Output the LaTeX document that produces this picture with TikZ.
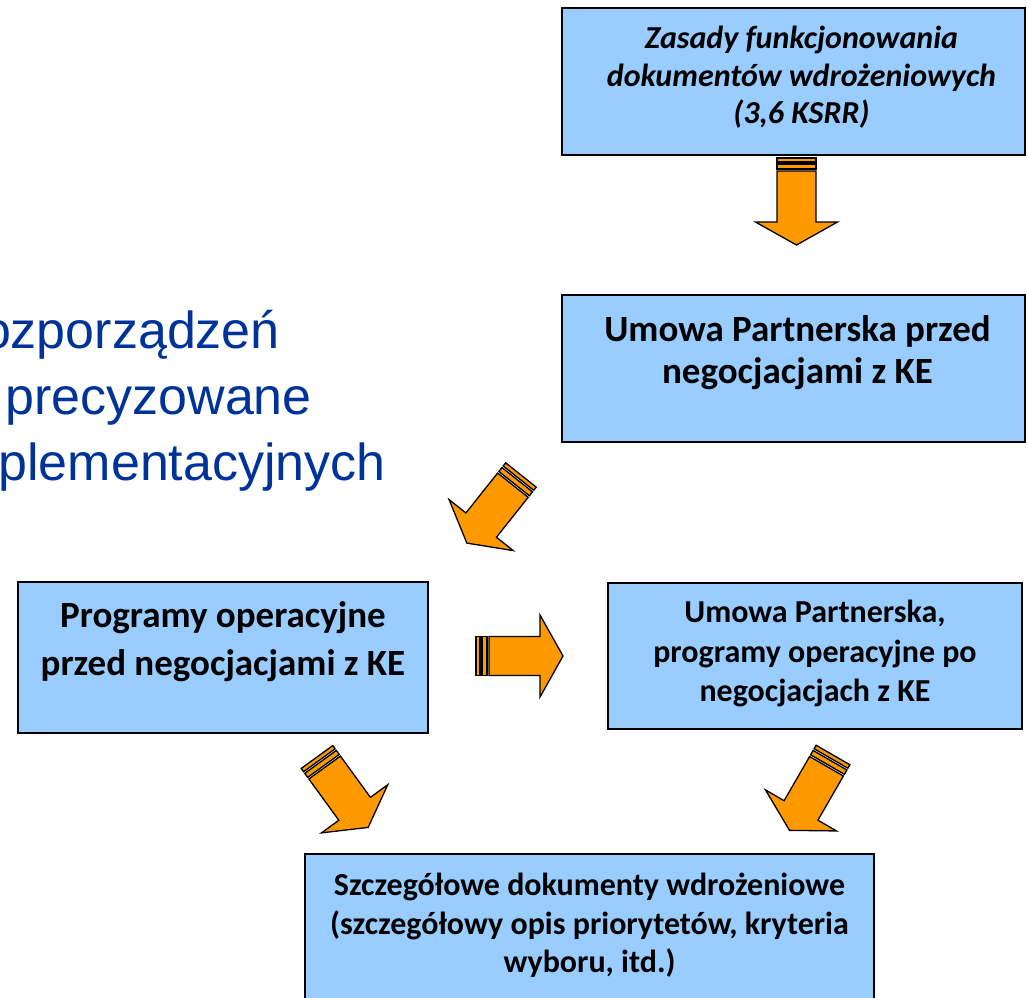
\documentclass[tikz,border=0pt]{standalone}
\usepackage{fontspec}
\setmainfont{Carlito}
\newfontfamily\arialfont{Liberation Sans}
\usetikzlibrary{positioning}
\definecolor{boxblue}{HTML}{99CCFF}
\definecolor{arroworange}{HTML}{FF9900}
\definecolor{titleblue}{HTML}{003399}

\tikzset{
  pics/striparrow/.style={code={
    \draw[arrowpart] (0,-19.5) rectangle (4,19.5);
    \draw[arrowpart] (6,-19.5) rectangle (11,19.5);
    \draw[arrowpart] (13,-19.5) -- (64,-19.5) -- (64,-41) -- (87,0) -- (64,41) -- (64,19.5) -- (13,19.5) -- cycle;
  }}
}

\begin{document}
\begin{tikzpicture}[x=1pt,y=1pt,line join=miter]
\tikzstyle{box}=[draw=black,line width=1.5pt,fill=boxblue,inner sep=0pt]
\tikzstyle{boxtext}=[align=center,inner sep=0pt]
\tikzstyle{arrowpart}=[draw=black,line width=1.3pt,fill=arroworange]
\tikzstyle{bigtext}=[text=titleblue,inner sep=0pt,anchor=base east,font=\arialfont\fontsize{52}{60}\selectfont]
  \useasboundingbox (0,0) rectangle (1027,-997);
  \clip (0,0) rectangle (1027,-997);
  % tekst w tle, obciety z lewej
  \node[bigtext] (rozp) at (280,-348) {ozporządzeń};
  \node[bigtext] (doprec) at (312,-414) {precyzowane};
  \node[bigtext] (implem) at (386,-480) {plementacyjnych};
  % ramki
  \node[box,minimum width=463pt,minimum height=147pt] (zasady) at (793.5,-81.5) {};
  \node[boxtext,below=19pt of zasady.north,xshift=8pt,font=\bfseries\itshape\fontsize{32}{37.5}\selectfont] (zasady-txt)
    {Zasady funkcjonowania\\dokumentów wdrożeniowych\\(3,6 KSRR)};
  \node[box,minimum width=463pt,minimum height=147pt] (umowa) at (793.5,-368.5) {};
  \node[boxtext,below=21pt of umowa.north,xshift=4pt,font=\bfseries\fontsize{37}{42}\selectfont] (umowa-txt)
    {Umowa Partnerska przed\\negocjacjami z KE};
  \node[box,minimum width=410pt,minimum height=151pt] (programy) at (223,-657.5) {};
  \node[boxtext,below=20pt of programy.north,font=\bfseries\fontsize{37}{48}\selectfont] (programy-txt)
    {Programy operacyjne\\przed negocjacjami z KE};
  \node[box,minimum width=414pt,minimum height=146pt] (umowa-po) at (815,-656) {};
  \node[boxtext,below=18pt of umowa-po.north,font=\bfseries\fontsize{32}{39.5}\selectfont] (umowa-po-txt)
    {Umowa Partnerska,\\programy operacyjne po\\negocjacjach z KE};
  \node[box,minimum width=569pt,minimum height=158pt] (szczeg) at (589.5,-933) {};
  \node[boxtext,below=20pt of szczeg.north,font=\bfseries\fontsize{32}{38.5}\selectfont] (szczeg-txt)
    {Szczegółowe dokumenty wdrożeniowe\\(szczegółowy opis priorytetów, kryteria\\wyboru, itd.)};
  % strzalki
  \pic[rotate=-90] (arr-zasady) at (796.5,-158) {striparrow};
  \pic[rotate=231.5] (arr-umowa) at (521,-475) {striparrow};
  \pic[rotate=0] (arr-programy) at (476,-656) {striparrow};
  \pic[rotate=-54] (arr-szczeg-l) at (317,-757) {striparrow};
  \pic[rotate=240] (arr-szczeg-r) at (833,-755) {striparrow};
\end{tikzpicture}
\end{document}
